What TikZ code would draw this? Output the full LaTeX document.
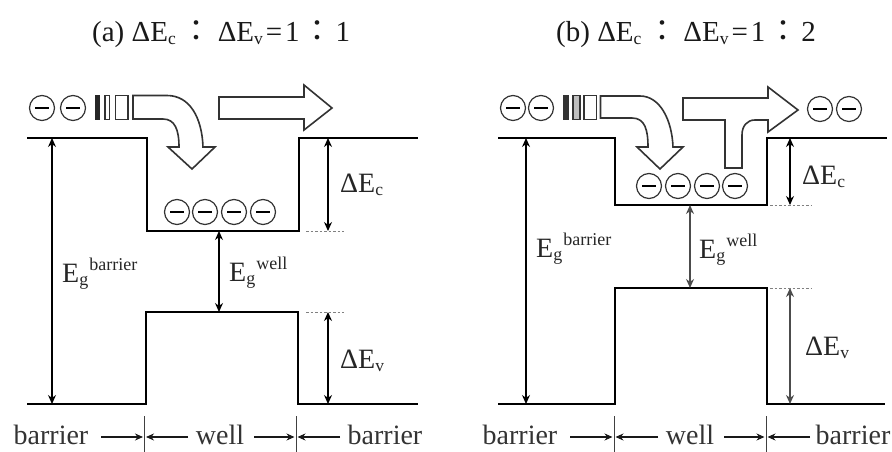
\documentclass[tikz,border=0pt]{standalone}
\usepackage{fontspec}
\setmainfont{Liberation Serif}
\newfontfamily\cjkf{Noto Sans CJK TC}
\usetikzlibrary{arrows.meta}
\newcommand{\cln}[1]{\makebox[#1][c]{\cjkf\fontsize{30}{30}\selectfont ：}}
\newcommand{\Eg}[1]{E\raisebox{-3pt}{\fontsize{18}{18}\selectfont g}\kern1pt\raisebox{12pt}{\fontsize{18}{18}\selectfont #1}}
\newcommand{\Dl}[1]{ΔE\raisebox{-3pt}{\fontsize{17.5}{17.5}\selectfont #1}}
\tikzset{
  x=1pt,y=-1pt,
  level/.style={line width=2.2pt,line join=miter},
  dim/.style={line width=1.3pt,{Stealth[length=9pt,width=8pt]}-{Stealth[length=9pt,width=8pt]}},
  dimg/.style={dim,draw=black!70},
  dots/.style={line width=1pt,dashed,dash pattern=on 2.5pt off 2pt,black!50},
  fat/.style={line width=1.6pt,draw=black!80,fill=white,line join=miter},
  lab/.style={inner sep=0pt,anchor=base west,font=\fontsize{28}{28}\selectfont,text=black!85},
  ttl/.style={inner sep=0pt,anchor=base west,font=\fontsize{29}{29}\selectfont,text=black!90},
  side/.style={inner sep=0pt,anchor=base,font=\fontsize{28}{28}\selectfont,text=black!80},
  tick/.style={line width=1pt,black!75},
  pt/.style={line width=1.1pt,-{Stealth[length=8pt,width=7pt]},black!90},
  elec/.style={circle,draw=black!80,line width=1.2pt,minimum size=25pt,inner sep=0pt,
    path picture={\draw[black,line width=2pt] ([xshift=-7pt]path picture bounding box.center)--([xshift=7pt]path picture bounding box.center);}}
}
\begin{document}
\begin{tikzpicture}
\useasboundingbox (0,0) rectangle (892,452);
% titles
\node[ttl] (ta) at (92,42) {(a) \Dl{c}\cln{42pt}\Dl{v}\kern3pt=\kern3pt 1\cln{36pt}1};
\node[ttl] (tb) at (556,42) {(b) \Dl{c}\cln{42pt}\Dl{v}\kern3pt=\kern3pt 1\cln{36pt}2};
% ---- panel a ----
\coordinate (a1) at (27,138); \coordinate (a2) at (147,138); \coordinate (a3) at (147,231);
\coordinate (a4) at (299,231); \coordinate (a5) at (299,138); \coordinate (a6) at (418,138);
\coordinate (a7) at (27,404); \coordinate (a8) at (146,404); \coordinate (a9) at (146,312);
\coordinate (a10) at (298,312); \coordinate (a11) at (298,404); \coordinate (a12) at (418,404);
\draw[level] (a1)--(a2)--(a3)--(a4)--(a5)--(a6);
\draw[level] (a7)--(a8)--(a9)--(a10)--(a11)--(a12);
\coordinate (ab1) at (52,138); \coordinate (ab2) at (52,404);
\draw[dim] (ab1)--(ab2);
\coordinate (aw1) at (219,231); \coordinate (aw2) at (219,312);
\draw[dim] (aw1)--(aw2);
\coordinate (ac1) at (328,138); \coordinate (ac2) at (328,231);
\draw[dim] (ac1)--(ac2);
\coordinate (av1) at (328,312); \coordinate (av2) at (328,404);
\draw[dim] (av1)--(av2);
\coordinate (ad1) at (306,231); \coordinate (ad2) at (344,231);
\coordinate (ad3) at (306,312); \coordinate (ad4) at (344,312);
\draw[dots] (ad1)--(ad2); \draw[dots] (ad3)--(ad4);
\node[lab] (agb) at (62,282) {\Eg{barrier}};
\node[lab] (agw) at (229,281) {\Eg{well}};
\node[lab] (adc) at (340,192) {\Dl{c}};
\node[lab] (adv) at (340,368) {\Dl{v}};
\foreach \n/\x/\y in {e1/42/108,e2/73/108,e3/177/212,e4/205/212,e5/234/212,e6/263/212}
  \node[elec] (a\n) at (\x,\y) {};
\fill[black!85] (95,95) rectangle (100,120);
\draw[fat] (105,95.5) rectangle (109.5,119.5);
\draw[fat] (115.5,95.5) rectangle (128,119.5);
\draw[fat] (133,95.5) -- (167,95.5) .. controls (190,95.5) and (202,118) .. (203,147) -- (215,147) -- (192,169) -- (168,147) -- (179,147) .. controls (179,130) and (175,119) .. (163,119) -- (133,119) -- cycle;
\draw[fat] (219,97) -- (304,97) -- (304,85) -- (332,108) -- (304,130) -- (304,119) -- (219,119) -- cycle;
\node[side] (abl) at (51,444) {barrier};
\node[side] (awl) at (220,444) {well};
\node[side] (abr) at (385,444) {barrier};
\coordinate (at1) at (144.5,416); \coordinate (at1b) at (144.5,452);
\coordinate (at2) at (296,416); \coordinate (at2b) at (296,452);
\draw[tick] (at1)--(at1b); \draw[tick] (at2)--(at2b);
\coordinate (ap1) at (101,437); \coordinate (ap1e) at (143,437);
\coordinate (ap2) at (188,437); \coordinate (ap2e) at (146,437);
\coordinate (ap3) at (254,437); \coordinate (ap3e) at (294.5,437);
\coordinate (ap4) at (340,437); \coordinate (ap4e) at (297.5,437);
\draw[pt] (ap1)--(ap1e); \draw[pt] (ap2)--(ap2e); \draw[pt] (ap3)--(ap3e); \draw[pt] (ap4)--(ap4e);
% ---- panel b ----
\coordinate (b1) at (498,138); \coordinate (b2) at (615,138); \coordinate (b3) at (615,205);
\coordinate (b4) at (767,205); \coordinate (b5) at (767,138); \coordinate (b6) at (887,138);
\coordinate (b7) at (498,404); \coordinate (b8) at (615,404); \coordinate (b9) at (615,288);
\coordinate (b10) at (767,288); \coordinate (b11) at (767,404); \coordinate (b12) at (885,404);
\draw[level] (b1)--(b2)--(b3)--(b4)--(b5)--(b6);
\draw[level] (b7)--(b8)--(b9)--(b10)--(b11)--(b12);
\coordinate (bb1) at (526,138); \coordinate (bb2) at (526,404);
\draw[dim] (bb1)--(bb2);
\coordinate (bw1) at (690,205); \coordinate (bw2) at (690,288);
\draw[dimg] (bw1)--(bw2);
\coordinate (bc1) at (790,138); \coordinate (bc2) at (790,205);
\draw[dim] (bc1)--(bc2);
\coordinate (bv1) at (790,288); \coordinate (bv2) at (790,404);
\draw[dimg] (bv1)--(bv2);
\coordinate (bd1) at (770,205); \coordinate (bd2) at (811,205);
\coordinate (bd3) at (770,288); \coordinate (bd4) at (811,288);
\draw[dots] (bd1)--(bd2); \draw[dots] (bd3)--(bd4);
\node[lab] (bgb) at (536,257) {\Eg{barrier}};
\node[lab] (bgw) at (699,258) {\Eg{well}};
\node[lab] (bdc) at (802,184) {\Dl{c}};
\node[lab] (bdv) at (805,355) {\Dl{v}};
\foreach \n/\x/\y in {e1/513/108,e2/541/108,e3/649/186,e4/678/186,e5/707/186,e6/735/186,e7/820/109,e8/849/109}
  \node[elec] (b\n) at (\x,\y) {};
\fill[black!80] (563,95) rectangle (568.5,120);
\draw[fat,fill=black!25] (573,95.5) rectangle (580,119.5);
\draw[fat] (584,95.5) rectangle (596.5,119.5);
\draw[fat] (600.5,96) -- (640,96) .. controls (660,96) and (672,120) .. (673,147) -- (683,147) -- (660,169) -- (637,147) -- (648,147) .. controls (648,130) and (645,118) .. (632,118) -- (600.5,118) -- cycle;
\draw[fat] (683,98) -- (768,98) -- (768,87) -- (798,110) -- (768,132) -- (768,120) -- (755,120) .. controls (747,120) and (742,126) .. (742,135) -- (742,168) -- (725,168) -- (725,120) -- (683,120) -- cycle;
\node[side] (bbl) at (520,444) {barrier};
\node[side] (bwl) at (690,444) {well};
\node[side] (bbr) at (853,444) {barrier};
\coordinate (bt1) at (614,416); \coordinate (bt1b) at (614,452);
\coordinate (bt2) at (766,416); \coordinate (bt2b) at (766,452);
\draw[tick] (bt1)--(bt1b); \draw[tick] (bt2)--(bt2b);
\coordinate (bp1) at (570,437); \coordinate (bp1e) at (612.5,437);
\coordinate (bp2) at (658,437); \coordinate (bp2e) at (615.5,437);
\coordinate (bp3) at (724,437); \coordinate (bp3e) at (764.5,437);
\coordinate (bp4) at (810,437); \coordinate (bp4e) at (767.5,437);
\draw[pt] (bp1)--(bp1e); \draw[pt] (bp2)--(bp2e); \draw[pt] (bp3)--(bp3e); \draw[pt] (bp4)--(bp4e);
\end{tikzpicture}
\end{document}
